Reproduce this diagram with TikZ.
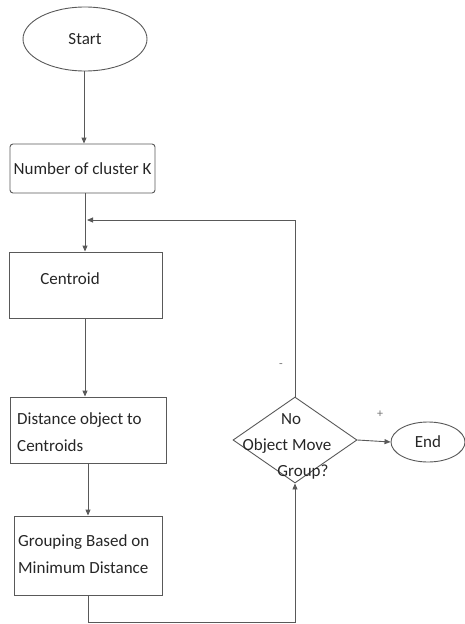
\documentclass[tikz,border=0pt]{standalone}
\usepackage{fontspec}
\setmainfont{Carlito}
\usetikzlibrary{shapes.geometric,arrows.meta}
\begin{document}
\begin{tikzpicture}[x=1pt,y=-1pt,
  every node/.style={font=\fontsize{17}{27}\selectfont, text=black!85},
  ln/.style={draw=black!65, line width=0.9pt},
  arr/.style={ln, -{Triangle[length=6pt,width=5pt]}},
  boxshape/.style={ln, rectangle, inner sep=0pt},
  ovalshape/.style={ln, ellipse, inner sep=0pt},
  txt/.style={inner sep=0pt, align=left, anchor=west},
  sign/.style={inner sep=0pt, text=black!55, font=\fontsize{12}{12}\selectfont}]
\useasboundingbox (0,0) rectangle (464,624);
% nodes
\node[ovalshape, minimum width=124pt, minimum height=64pt] (start) at (85,39) {Start};
\node[boxshape, rounded corners=3pt, minimum width=145pt, minimum height=49pt] (num) at (82.5,168.5) {Number of cluster K};
\node[boxshape, minimum width=153pt, minimum height=66pt] (cent) at (85.5,285) {};
\node[inner sep=0pt] (centt) at (70,279) {Centroid};
\node[boxshape, minimum width=156pt, minimum height=66pt] (dist) at (88,430) {};
\node[txt] (distt) at (17,432) {Distance object to\\Centroids};
\node[boxshape, minimum width=148pt, minimum height=79pt] (grp) at (88,555.5) {};
\node[txt] (grpt) at (18,554) {Grouping Based on\\Minimum Distance};
\node[ln, diamond, inner sep=0pt, minimum width=124pt, minimum height=86pt] (dec) at (295,440) {};
\node[inner sep=0pt] (d1) at (291,419) {No};
\node[inner sep=0pt] (d2) at (287,446) {Object Move};
\node[inner sep=0pt] (d3) at (303,472) {Group?};
\node[ovalshape, minimum width=74pt, minimum height=40pt] (end) at (428,442) {End};
\node[sign] (minus) at (281,366) {-};
\node[sign] (plus) at (380,414) {+};
% helper coordinates
\coordinate (j) at (85,220);
\coordinate (tr) at (dec.north |- j);
\coordinate (gb) at (88,622);
\coordinate (br) at (dec.south |- gb);
% connectors
\draw[arr] (start.south -| 84,0) -- (num.north -| 84,0);
\draw[ln] (num.south -| 85,0) -- (j);
\draw[arr] (j) -- (cent.north -| 85,0);
\draw[arr] (dec.north) -- (tr) -- ([xshift=2pt]j);
\draw[arr] (cent.south -| 85,0) -- (dist.north -| 85,0);
\draw[arr] (dist.south -| 88,0) -- (grp.north -| 88,0);
\draw[arr] (grp.south -| 88,0) -- (gb) -- (br) -- (dec.south);
\draw[arr] (dec.east) -- (end.west);
\end{tikzpicture}
\end{document}
